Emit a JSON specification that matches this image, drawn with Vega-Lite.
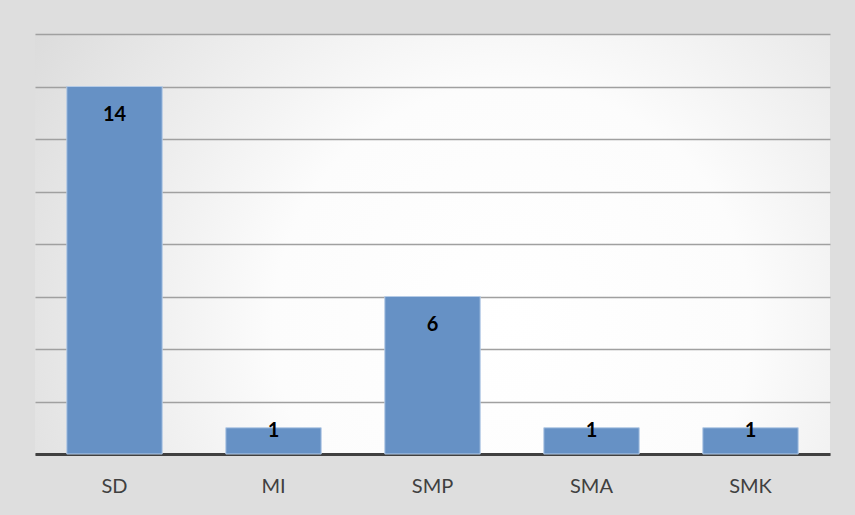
{
  "$schema": "https://vega.github.io/schema/vega-lite/v6.json",
  "width": 795,
  "height": 420,
  "autosize": "none",
  "padding": {"left": 35, "top": 34, "right": 25, "bottom": 61},
  "background": "#dedede",
  "data": {"values": [
    {"jenjang": "SD", "n": 14},
    {"jenjang": "MI", "n": 1},
    {"jenjang": "SMP", "n": 6},
    {"jenjang": "SMA", "n": 1},
    {"jenjang": "SMK", "n": 1}
  ]},
  "config": {
    "view": {
      "stroke": null,
      "fill": {"gradient": "radial", "x1": 0.6, "y1": 0.6, "r1": 0.0, "x2": 0.6, "y2": 0.6, "r2": 0.75,
        "stops": [{"offset": 0, "color": "#ffffff"}, {"offset": 0.4, "color": "#fcfcfc"}, {"offset": 1, "color": "#d8d8d8"}]}
    },
    "font": "Lato"
  },
  "encoding": {
    "x": {"field": "jenjang", "type": "nominal", "sort": null,
      "scale": {"paddingInner": 0.4, "paddingOuter": 0.2},
      "axis": {"title": null, "labelAngle": 0, "labelFontSize": 20, "labelColor": "#404040", "labelFont": "Lato",
        "ticks": false, "labelPadding": 22, "domainColor": "#404040", "domainWidth": 3, "grid": false}},
    "y": {"field": "n", "type": "quantitative",
      "scale": {"domain": [0, 16], "nice": false},
      "axis": {"title": null, "labels": false, "ticks": false, "domain": false, "values": [0,2,4,6,8,10,12,14,16],
        "gridColor": "#a0a0a0", "gridWidth": 1.4}}
  },
  "layer": [
    {"mark": {"type": "bar", "color": "#6691c5", "stroke": "#b5cbe6", "strokeWidth": 1}},
    {"transform": [{"filter": "datum.n > 2"}],
     "mark": {"type": "text", "baseline": "middle", "dy": 28, "fontSize": 20, "fontWeight": "bold", "color": "#000000", "font": "Lato"},
     "encoding": {"text": {"field": "n", "type": "quantitative"}}},
    {"transform": [{"filter": "datum.n <= 2"}],
     "mark": {"type": "text", "baseline": "middle", "dy": 3, "fontSize": 20, "fontWeight": "bold", "color": "#000000", "font": "Lato"},
     "encoding": {"text": {"field": "n", "type": "quantitative"}}}
  ]
}
